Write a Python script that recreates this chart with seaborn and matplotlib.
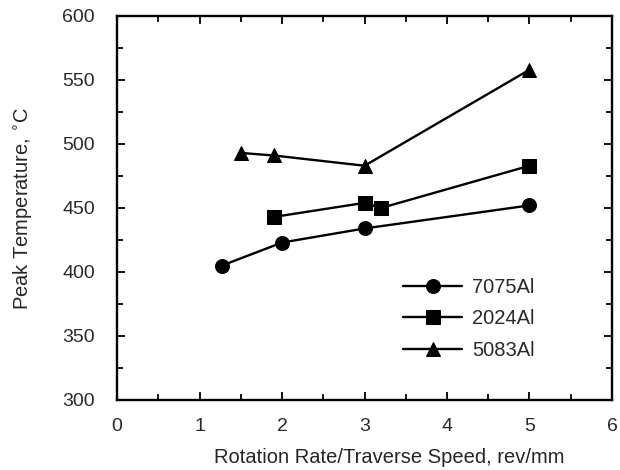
import pandas as pd
import seaborn as sns
import matplotlib.pyplot as plt
from matplotlib.ticker import MultipleLocator

# Values
x_7075 = [1.27, 2.0, 3.0, 5.0]
y_7075 = [405, 423, 434, 452]
x_2024 = [1.9, 3.0, 3.2, 5.0]
y_2024 = [443, 454, 450, 483]
x_5083 = [1.5, 1.9, 3.0, 5.0]
y_5083 = [493, 491, 483, 558]
alloys = ["7075Al", "2024Al", "5083Al"]

df = pd.concat([
    pd.DataFrame({"x": x_7075, "y": y_7075, "alloy": "7075Al"}),
    pd.DataFrame({"x": x_2024, "y": y_2024, "alloy": "2024Al"}),
    pd.DataFrame({"x": x_5083, "y": y_5083, "alloy": "5083Al"}),
])

sns.set_style("ticks")
plt.rcParams["font.family"] = ["Liberation Sans", "DejaVu Sans"]
plt.rcParams["text.color"] = "#2a2a2a"

fig = plt.figure(figsize=(6.2, 4.7), dpi=100)
ax = fig.add_axes([0.189, 0.149, 0.798, 0.817])

sns.lineplot(data=df, x="x", y="y", hue="alloy", style="alloy",
             hue_order=alloys, style_order=alloys,
             palette=["black"] * 3, markers={"7075Al": "o", "2024Al": "s", "5083Al": "^"},
             dashes=False, markersize=10, markeredgecolor="black", linewidth=1.7,
             ax=ax)

ax.set_xlim(0, 6)
ax.set_ylim(300, 600)
ax.xaxis.set_major_locator(MultipleLocator(1))
ax.xaxis.set_minor_locator(MultipleLocator(0.5))
ax.yaxis.set_major_locator(MultipleLocator(50))
ax.yaxis.set_minor_locator(MultipleLocator(25))
ax.tick_params(which="both", direction="in", top=True, right=True, colors="black",
               labelcolor="#2a2a2a", labelsize=14)
ax.tick_params(axis="x", which="major", pad=13)
ax.tick_params(axis="y", which="major", pad=16)
ax.tick_params(which="major", length=6, width=1.3)
ax.tick_params(which="minor", length=4, width=1.3)
for s in ax.spines.values():
    s.set_linewidth(1.7)
    s.set_color("black")

ax.set_xlabel("Rotation Rate/Traverse Speed, rev/mm", fontsize=14.5)
ax.xaxis.set_label_coords(0.55, -0.125)
ax.set_ylabel("Peak Temperature, $^{\\circ}$C", fontsize=14.5, labelpad=20)

leg = ax.legend(loc="upper left", bbox_to_anchor=(0.542, 0.365), frameon=False,
                fontsize=14.5, handlelength=2.9, handletextpad=0.5, labelspacing=0.62)

fig.savefig("out.png", dpi=100)
